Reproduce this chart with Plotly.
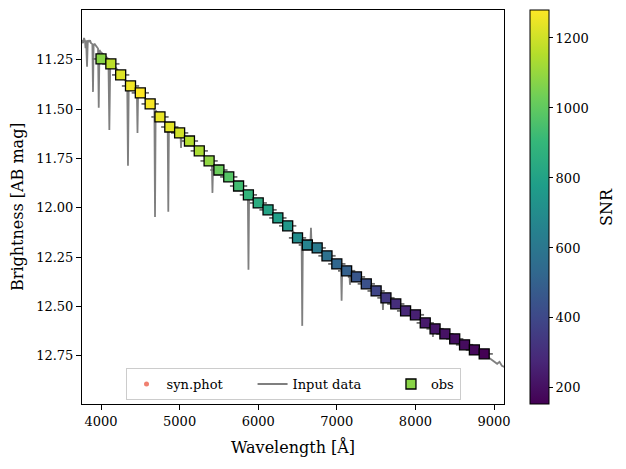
import plotly.graph_objects as go

# ---- observed (binned) photometry ----
obs_wave = [4000, 4125, 4250, 4375, 4500, 4625, 4750, 4875, 5000, 5125,
            5250, 5375, 5500, 5625, 5750, 5875, 6000, 6125, 6250, 6375,
            6500, 6625, 6750, 6875, 7000, 7125, 7250, 7375, 7500, 7625,
            7750, 7875, 8000, 8125, 8250, 8375, 8500, 8625, 8750, 8875]
obs_mag = [11.245, 11.270, 11.326, 11.382, 11.417, 11.473, 11.539, 11.590, 11.620, 11.661,
           11.711, 11.762, 11.808, 11.843, 11.889, 11.934, 11.975, 12.010, 12.051, 12.091,
           12.152, 12.188, 12.203, 12.243, 12.284, 12.319, 12.350, 12.385, 12.421, 12.456,
           12.487, 12.522, 12.542, 12.583, 12.613, 12.639, 12.664, 12.694, 12.720, 12.740]
obs_snr = [1077, 1167, 1224, 1257, 1280, 1269, 1246, 1235, 1201, 1150,
           1134, 1089, 1020, 975, 930, 886, 852, 807, 785, 750,
           700, 661, 616, 571, 526, 503, 458, 436, 390, 345,
           300, 278, 255, 233, 222, 210, 199, 188, 176, 154]
obs_halfwidth = 110  # horizontal error (Angstrom)

# ---- input spectrum ----
spec_wave = [3758, 3771, 3784, 3796, 3803, 3810, 3822, 3832, 3845, 3860,
             3873, 3890, 3898, 3906, 3920, 3936, 3950, 3962, 3971, 3980,
             3995, 4025, 4064, 4094, 4106, 4118, 4150, 4216, 4293, 4333,
             4343, 4353, 4394, 4456, 4464, 4472, 4509, 4598, 4679, 4687,
             4695, 4751, 4848, 4856, 4864, 4941, 5010, 5018, 5026, 5081,
             5250, 5410, 5418, 5426, 5500, 5625, 5750, 5868, 5876, 5884,
             6000, 6125, 6250, 6375, 6500, 6552, 6560, 6568, 6663, 6671,
             6679, 6750, 6875, 7000, 7053, 7061, 7069, 7159, 7167, 7175,
             7250, 7375, 7500, 7579, 7587, 7595, 7750, 7875, 8000, 8125,
             8215, 8223, 8231, 8375, 8500, 8625, 8750, 8875, 9000, 9040,
             9070, 9100, 9130]
spec_mag = [11.149, 11.165, 11.139, 11.155, 11.190, 11.150, 11.285, 11.150, 11.160, 11.150,
            11.165, 11.170, 11.412, 11.172, 11.170, 11.180, 11.185, 11.192, 11.493, 11.200,
            11.210, 11.222, 11.235, 11.245, 11.605, 11.255, 11.270, 11.305, 11.345, 11.365,
            11.787, 11.372, 11.388, 11.405, 11.620, 11.410, 11.421, 11.460, 11.500, 12.046,
            11.505, 11.539, 11.580, 12.020, 11.585, 11.605, 11.618, 11.696, 11.622, 11.645,
            11.711, 11.775, 11.924, 11.780, 11.808, 11.843, 11.889, 11.931, 12.314, 11.936,
            11.975, 12.010, 12.051, 12.095, 12.140, 12.160, 12.598, 12.163, 12.188, 12.101,
            12.192, 12.205, 12.243, 12.282, 12.296, 12.471, 12.300, 12.326, 12.390, 12.330,
            12.350, 12.385, 12.418, 12.440, 12.517, 12.444, 12.487, 12.520, 12.548, 12.580,
            12.603, 12.654, 12.606, 12.639, 12.666, 12.694, 12.720, 12.742, 12.780, 12.790,
            12.780, 12.800, 12.806]

x_ticks = [4000, 5000, 6000, 7000, 8000, 9000]
y_ticks = [11.25, 11.50, 11.75, 12.00, 12.25, 12.50, 12.75]
cbar_ticks = [200, 400, 600, 800, 1000, 1200]

FONT = "DejaVu Serif"
PAD = "\u00a0" * 6  # extra column spacing in the legend

fig = go.Figure()

# synthetic photometry (hidden under the obs squares)
fig.add_trace(go.Scatter(
    x=obs_wave, y=obs_mag, mode="markers", name="syn.phot" + PAD,
    marker=dict(color="#f08070", size=5),
))

fig.add_trace(go.Scatter(
    x=spec_wave, y=spec_mag, mode="lines", name="Input data" + PAD,
    line=dict(color="#7f7f7f", width=1.8),
))

fig.add_trace(go.Scatter(
    x=obs_wave, y=obs_mag, mode="markers", name="obs",
    error_x=dict(type="constant", value=obs_halfwidth, color="#6f6f6f",
                 thickness=1.8, width=0),
    marker=dict(symbol="square", size=10, color=obs_snr,
                colorscale="Viridis", cmin=154, cmax=1280,
                line=dict(color="black", width=1.3),
                colorbar=dict(
                    x=(530 - 82) / 422, xanchor="left", xref="paper",
                    xpad=0, ypad=0,
                    y=0.5, yanchor="middle", len=394, lenmode="pixels",
                    thickness=19, outlinecolor="black", outlinewidth=1,
                    tickvals=cbar_ticks, ticks="outside", ticklen=4,
                    tickcolor="black", tickfont=dict(family=FONT, size=13, color="black"),
                )),
))

fig.update_layout(
    width=626, height=469,
    margin=dict(l=82, r=122, t=10, b=65),
    paper_bgcolor="white", plot_bgcolor="white",
    font=dict(family=FONT, size=13, color="black"),
    showlegend=True,
    legend=dict(
        orientation="h", x=0.5, xanchor="center", y=0.01, yanchor="bottom",
        bgcolor="rgba(255,255,255,0.8)", bordercolor="#cccccc", borderwidth=1,
        font=dict(family=FONT, size=13, color="black"),
    ),
)

fig.update_xaxes(
    range=[3758, 9127], tickvals=x_ticks, ticks="outside", ticklen=5,
    tickcolor="black", showline=True, linecolor="black", linewidth=1,
    mirror=True, showgrid=False, zeroline=False,
    tickfont=dict(family=FONT, size=13, color="black"),
)
fig.update_yaxes(
    range=[12.994, 10.997], tickvals=y_ticks, tickformat=".2f",
    ticks="outside", ticklen=5, tickcolor="black", showline=True,
    linecolor="black", linewidth=1, mirror=True, showgrid=False,
    zeroline=False, tickfont=dict(family=FONT, size=13, color="black"),
)

fig.add_annotation(text="Wavelength [Å]", xref="paper", yref="paper",
                   x=0.5, y=-(447 - 404) / 394, yanchor="middle", showarrow=False,
                   font=dict(family=FONT, size=16, color="black"))
fig.add_annotation(text="Brightness [AB mag]", xref="paper", yref="paper",
                   x=-(82 - 17) / 422, y=0.5, xanchor="center", showarrow=False,
                   textangle=-90, font=dict(family=FONT, size=16, color="black"))
fig.add_annotation(text="SNR", xref="paper", yref="paper",
                   x=(606 - 82) / 422, y=0.5, xanchor="center", showarrow=False,
                   textangle=-90, font=dict(family=FONT, size=16, color="black"))

fig.write_html("out.html")
